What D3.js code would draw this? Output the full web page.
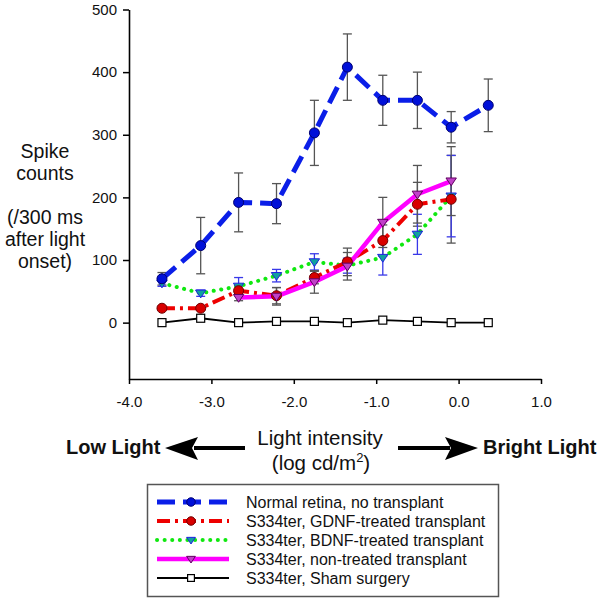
<!DOCTYPE html>
<html><head><meta charset="utf-8">
<script src="https://cdn.jsdelivr.net/npm/d3@7"></script>
<style>body{margin:0;background:#fff}svg{display:block;font-family:"Liberation Sans",Arial,sans-serif}</style>
</head><body><svg id="c" width="600" height="601"></svg>
<script>
// ---- data ----
const xLevels = [-3.6, -3.13, -2.67, -2.21, -1.75, -1.35, -0.92, -0.5, -0.09, 0.36];
const normalVals = [70, 123, 192, 190, 303, 408, 355, 355, 312, 347];
const normalErr  = [10, 45, 47, 32, 52, 53, 40, 45, 25, 42];
const gdnfVals = [23, 23, 51, 43, 72, 97, 131, 189, 197];
const gdnfErr  = [3, 3, 8, 13, 10, 22, 25, 35, 70];
const bdnfVals = [63, 47, 58, 75, 97, 91, 104, 141, 202];
const bdnfErr  = [5, 5, 14, 10, 13, 12, 28, 32, 65];
const nonVals = [null, null, 40, 42, 65, 90, 160, 205, 226];
const nonErr  = [null, null, 5, 14, 18, 22, 40, 46, 55];
const shamVals = [0, 7, 0, 2, 2, 0, 4, 2, 0, 0];
const yTicks = [0, 100, 200, 300, 400, 500];
const xTicks = [-4, -3, -2, -1, 0, 1];
const seriesNames = ["Normal retina, no transplant", "S334ter, GDNF-treated transplant",
  "S334ter, BDNF-treated transplant", "S334ter, non-treated transplant", "S334ter, Sham surgery"];

const series = [
  {name: seriesNames[0], vals: normalVals, err: normalErr, color: "#0a1ee8", width: 5, dash: "18,8", marker: "circle", fill: "#0010d8", stroke: "#000070", errColor: "#555"},
  {name: seriesNames[1], vals: gdnfVals, err: gdnfErr, color: "#ee0000", width: 4, dash: "13,5,3,5", marker: "circle", fill: "#d80000", stroke: "#700000", errColor: "#555"},
  {name: seriesNames[2], vals: bdnfVals, err: bdnfErr, color: "#10e810", width: 4, dash: "0.1,7.5", cap: "round", marker: "tri", fill: "#10a0a0", stroke: "#2020e0", errColor: "#3838e8"},
  {name: seriesNames[3], vals: nonVals, err: nonErr, color: "#ff00ff", width: 4.5, dash: null, marker: "tri", fill: "#c040c8", stroke: "#600060", errColor: "#555"},
  {name: seriesNames[4], vals: shamVals, err: null, color: "#000", width: 1.8, dash: null, marker: "square", fill: "#fff", stroke: "#000", errColor: "#555"}
];

const svg = d3.select("#c");
const x = d3.scaleLinear().domain([-4, 1]).range([129, 541]);
const y = d3.scaleLinear().domain([-90, 500]).range([379, 9.5]);

// axes
const ya = svg.append("g").attr("transform", "translate(129,0)")
  .call(d3.axisLeft(y).tickValues(yTicks).tickSize(6).tickSizeOuter(0).tickPadding(6).tickFormat(d3.format("d")));
const xa = svg.append("g").attr("transform", "translate(0,379)")
  .call(d3.axisBottom(x).tickValues(xTicks).tickSize(5).tickSizeOuter(0).tickPadding(12).tickFormat(d => d.toFixed(1)));
[ya, xa].forEach(g => {
  g.select(".domain").attr("stroke", "#000").attr("stroke-width", 1.6);
  g.selectAll(".tick line").attr("stroke", "#000").attr("stroke-width", 1.5);
  g.selectAll("text").attr("font-size", 15).attr("fill", "#111").attr("font-family", "Liberation Sans, Arial, sans-serif");
});

// error bars
series.forEach(s => {
  if (!s.err) return;
  const pts = s.vals.map((v, i) => ({x: xLevels[i], v, e: s.err[i]})).filter(p => p.v != null);
  const g = svg.append("g").attr("stroke", s.errColor).attr("stroke-width", 1.3).attr("fill", "none");
  pts.forEach(p => {
    const cx = x(p.x), t = y(p.v + p.e), b = y(p.v - p.e);
    g.append("line").attr("x1", cx).attr("x2", cx).attr("y1", t).attr("y2", b);
    g.append("line").attr("x1", cx - 4.5).attr("x2", cx + 4.5).attr("y1", t).attr("y2", t);
    g.append("line").attr("x1", cx - 4.5).attr("x2", cx + 4.5).attr("y1", b).attr("y2", b);
  });
});

function drawMarker(g, s, cx, cy, scale) {
  scale = scale || 1;
  if (s.marker === "circle") {
    g.append("circle").attr("cx", cx).attr("cy", cy).attr("r", 5 * scale)
      .attr("fill", s.fill).attr("stroke", s.stroke).attr("stroke-width", 1);
  } else if (s.marker === "tri") {
    const r = 5.2 * scale;
    g.append("path").attr("d", `M${cx - r},${cy - r * 0.6}L${cx + r},${cy - r * 0.6}L${cx},${cy + r * 0.9}Z`)
      .attr("fill", s.fill).attr("stroke", s.stroke).attr("stroke-width", 1);
  } else {
    const h = 4 * scale;
    g.append("rect").attr("x", cx - h).attr("y", cy - h).attr("width", 2 * h).attr("height", 2 * h)
      .attr("fill", s.fill).attr("stroke", s.stroke).attr("stroke-width", 1.2);
  }
}

// lines (draw sham first, then others)
const order = [4, 2, 1, 3, 0];
order.forEach(k => {
  const s = series[k];
  const pts = s.vals.map((v, i) => ({x: xLevels[i], v})).filter(p => p.v != null);
  const line = d3.line().x(p => x(p.x)).y(p => y(p.v));
  svg.append("path").datum(pts).attr("d", line).attr("fill", "none")
    .attr("stroke", s.color).attr("stroke-width", s.width)
    .attr("stroke-dasharray", s.dash).attr("stroke-linecap", s.cap || "butt")
    .attr("stroke-linejoin", "round");
});
order.forEach(k => {
  const s = series[k];
  const g = svg.append("g");
  s.vals.forEach((v, i) => { if (v != null) drawMarker(g, s, x(xLevels[i]), y(v)); });
});

// y axis title
const yt = svg.append("g").attr("font-size", 19.5).attr("fill", "#111").attr("text-anchor", "middle");
[["Spike", 158], ["counts", 180], ["(/300 ms", 224], ["after light", 246], ["onset)", 268]].forEach(([t, yy]) =>
  yt.append("text").attr("x", 45).attr("y", yy).text(t));

// x axis title + arrows
const xt = svg.append("g").attr("fill", "#111").attr("text-anchor", "middle");
xt.append("text").attr("x", 320).attr("y", 445).attr("font-size", 20.5).text("Light intensity");
const l2 = xt.append("text").attr("x", 321).attr("y", 470).attr("font-size", 20.5);
l2.append("tspan").text("(log cd/m");
l2.append("tspan").attr("font-size", 13).attr("dy", -8).text("2");
l2.append("tspan").attr("dy", 8).text(")");

svg.append("text").attr("x", 66).attr("y", 454).attr("font-size", 20).attr("font-weight", "bold").attr("fill", "#111").text("Low Light");
svg.append("text").attr("x", 483).attr("y", 454).attr("font-size", 20).attr("font-weight", "bold").attr("fill", "#111").text("Bright Light");
// left arrow
svg.append("line").attr("x1", 194).attr("x2", 245).attr("y1", 448).attr("y2", 448).attr("stroke", "#000").attr("stroke-width", 4);
svg.append("path").attr("d", "M165,448L198,437L192,448L198,460Z").attr("fill", "#000");
// right arrow
svg.append("line").attr("x1", 398).attr("x2", 450).attr("y1", 448).attr("y2", 448).attr("stroke", "#000").attr("stroke-width", 4);
svg.append("path").attr("d", "M478,448L445,437L451,448L445,460Z").attr("fill", "#000");

// legend
const lg = svg.append("g");
lg.append("rect").attr("x", 147.5).attr("y", 484.5).attr("width", 351).attr("height", 112)
  .attr("fill", "#fff").attr("stroke", "#555").attr("stroke-width", 1.5);
series.forEach((s, i) => {
  const cy = 502 + i * 19;
  lg.append("line").attr("x1", 157).attr("x2", 229).attr("y1", cy).attr("y2", cy)
    .attr("stroke", s.color).attr("stroke-width", s.width).attr("stroke-dasharray", s.dash)
    .attr("stroke-linecap", s.cap || "butt");
  drawMarker(lg, s, 191, cy, 0.85);
  lg.append("text").attr("x", 246).attr("y", cy + 6).attr("font-size", 16).attr("fill", "#111").text(s.name);
});
</script></body></html>
